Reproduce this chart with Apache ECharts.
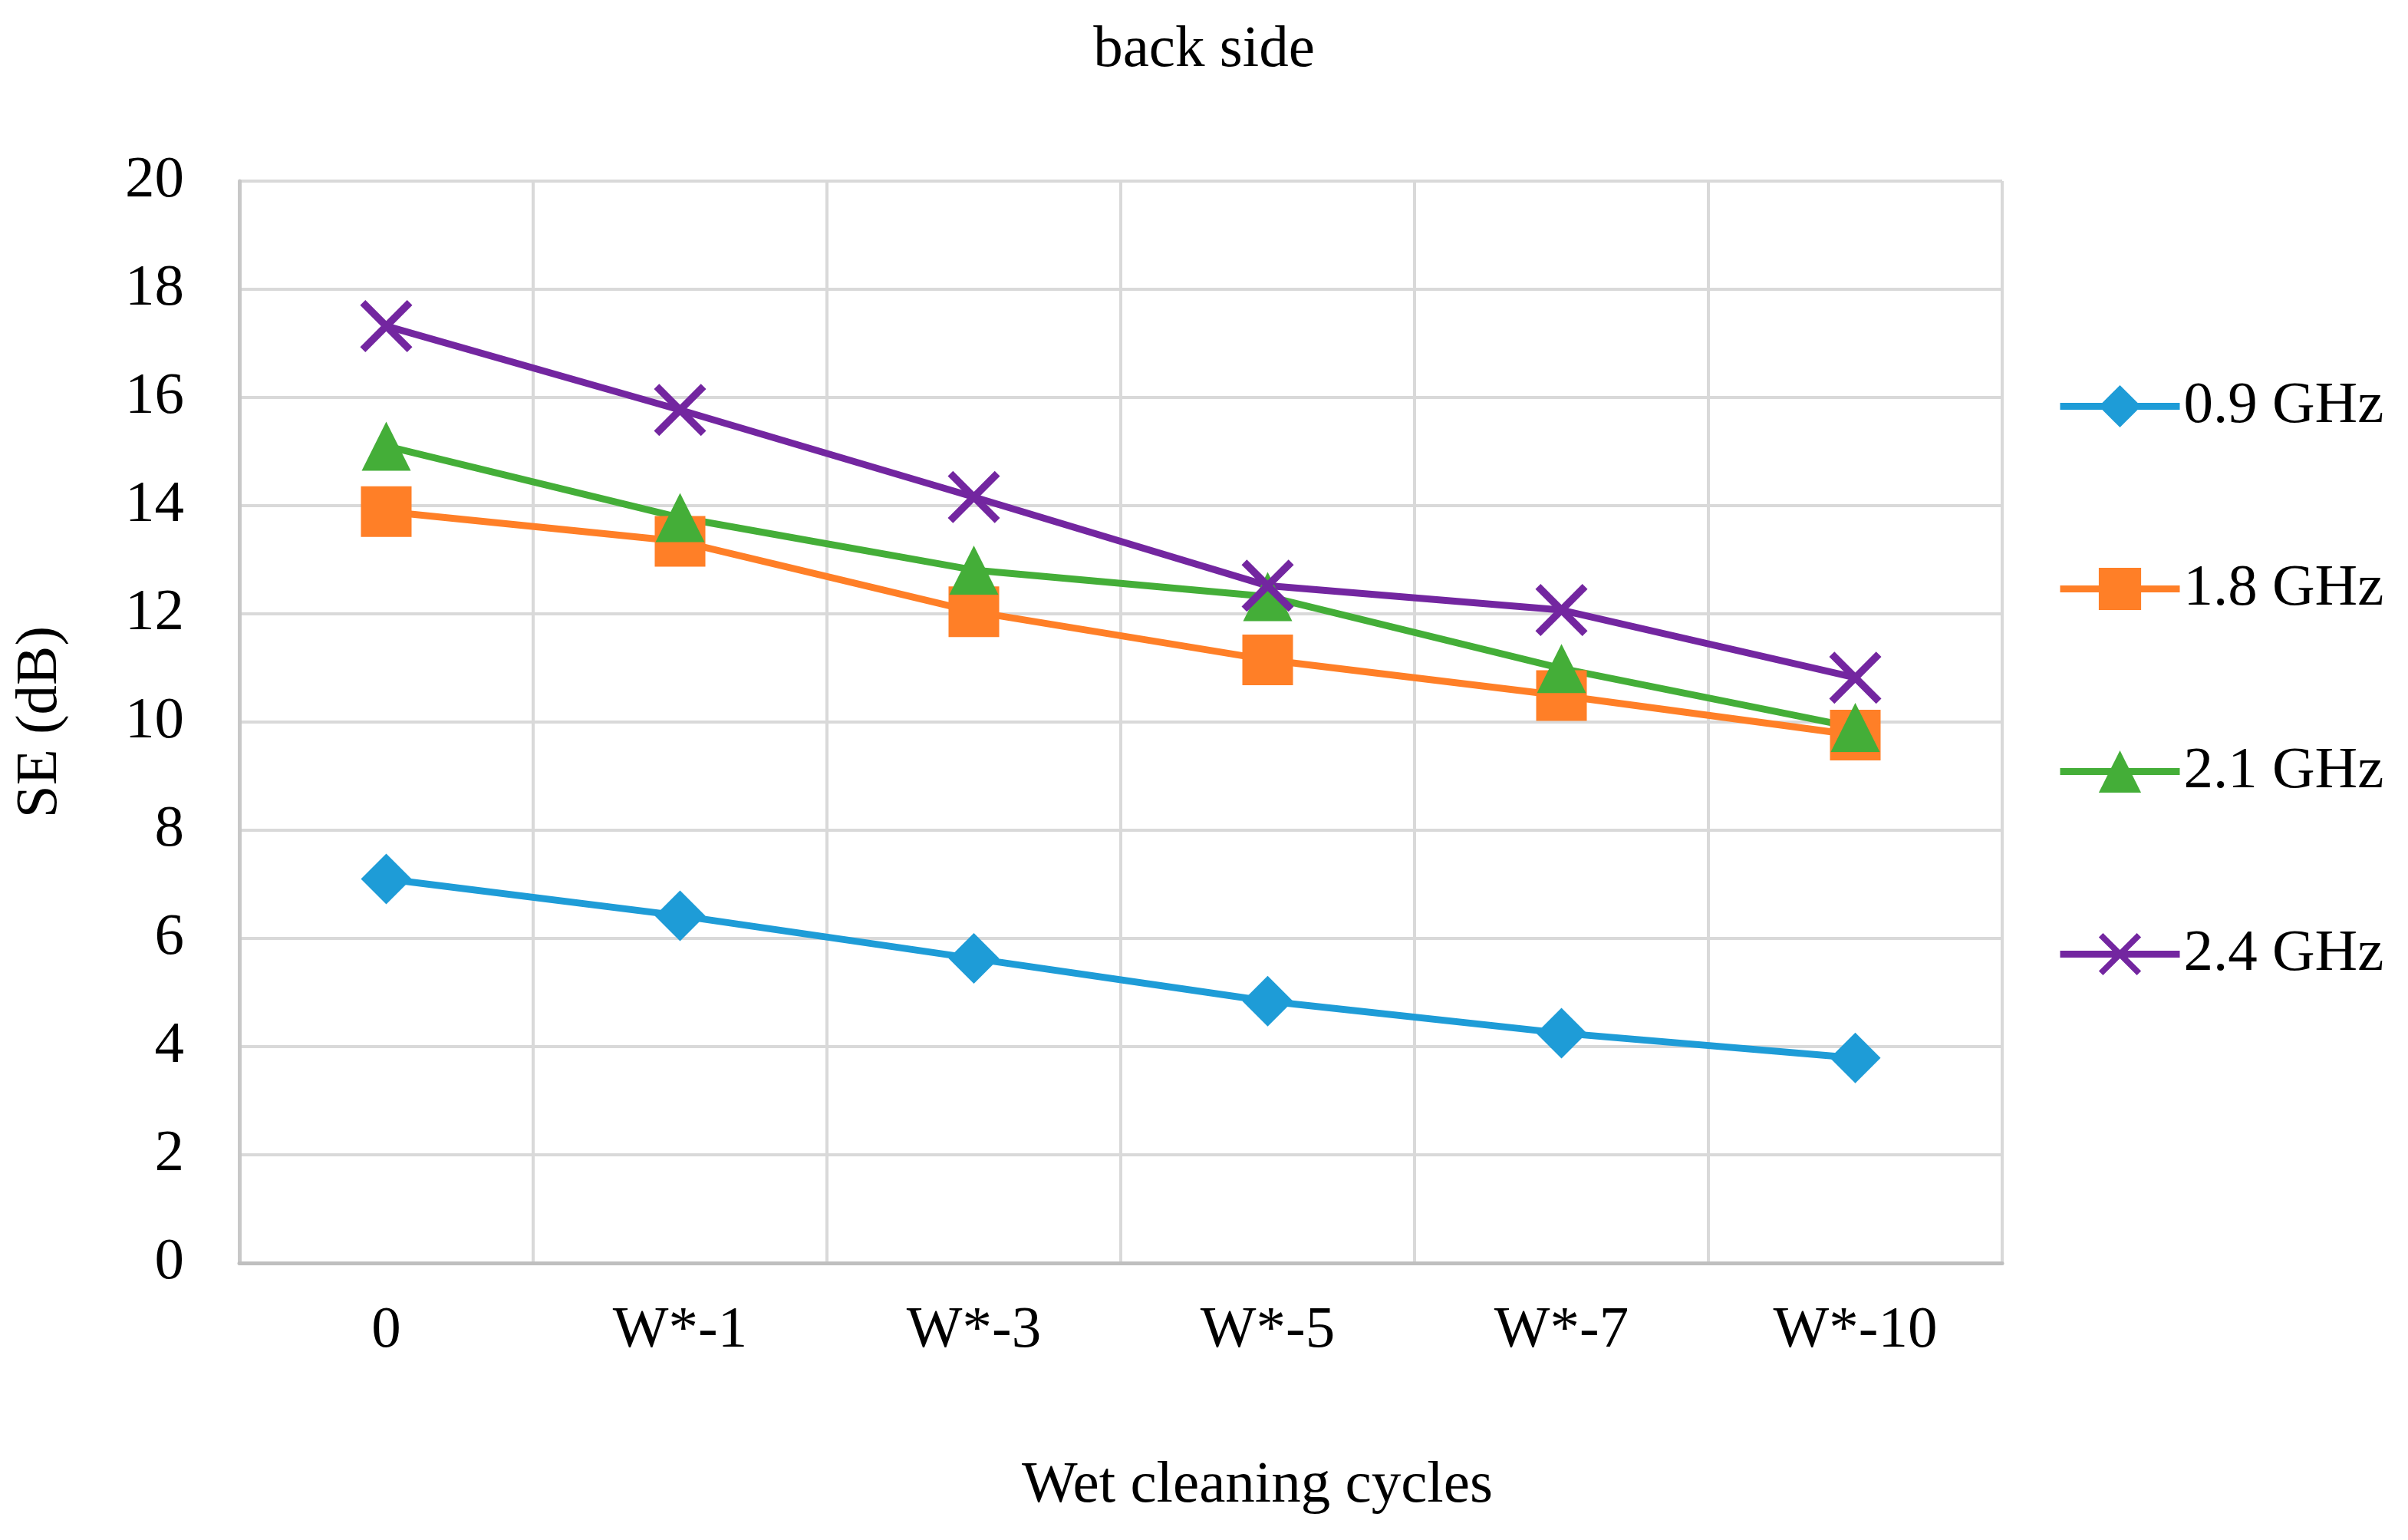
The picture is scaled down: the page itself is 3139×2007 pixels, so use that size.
<!DOCTYPE html>
<html>
<head>
<meta charset="utf-8">
<script src="https://cdn.jsdelivr.net/npm/echarts@6/dist/echarts.min.js"></script>
<style>
html,body{margin:0;padding:0;background:#fff;}
#chart{width:3139px;height:2007px;}
</style>
</head>
<body>
<div id="chart"></div>
<script>
const categories = ['0', 'W*-1', 'W*-3', 'W*-5', 'W*-7', 'W*-10'];
const seriesNames = ['0.9 GHz', '1.8 GHz', '2.1 GHz', '2.4 GHz'];
const se09 = [7.1, 6.42, 5.63, 4.84, 4.25, 3.79];
const se18 = [13.89, 13.34, 12.04, 11.15, 10.49, 9.76];
const se21 = [15.1, 13.78, 12.81, 12.32, 10.99, 9.9];
const se24 = [17.32, 15.77, 14.16, 12.52, 12.07, 10.82];
const yTicks = { min: 0, max: 20, interval: 2 };

const FONT = '"Liberation Serif", "DejaVu Serif", serif';
const FS = 77;
const xPath = 'path://M0,10 L10,0 L50,40 L90,0 L100,10 L60,50 L100,90 L90,100 L50,60 L10,100 L0,90 L40,50 Z';

const colors = ['#1E9CD7', '#FF7F27', '#44AE38', '#7326A0'];
const symbols = ['diamond', 'rect', 'triangle', xPath];
const sizes = [66, 66, 64, 68];
const values = [se09, se18, se21, se24];

const chart = echarts.init(document.getElementById('chart'), null, { renderer: 'canvas' });

const series = seriesNames.map((name, i) => ({
  name: name,
  type: 'line',
  data: values[i],
  symbol: symbols[i],
  symbolSize: sizes[i],
  showAllSymbol: true,
  lineStyle: { color: colors[i], width: 9 },
  itemStyle: { color: colors[i], borderWidth: 0 },
  emphasis: { disabled: true },
  animation: false
}));

chart.setOption({
  animation: false,
  backgroundColor: '#ffffff',
  title: {
    text: 'back side',
    left: 'center',
    top: 22,
    textStyle: { fontFamily: FONT, fontSize: FS, fontWeight: 'normal', color: '#000' }
  },
  legend: {
    orient: 'vertical',
    left: 2676,
    top: 486,
    itemWidth: 156,
    itemHeight: 69,
    itemGap: 161,
    data: seriesNames,
    lineStyle: { width: 9 },
    textStyle: { fontFamily: FONT, fontSize: FS, color: '#000' }
  },
  grid: { left: 312, right: 529, top: 236, bottom: 361, containLabel: false },
  xAxis: {
    type: 'category',
    data: categories,
    boundaryGap: true,
    name: 'Wet cleaning cycles',
    nameLocation: 'middle',
    nameGap: 252,
    nameTextStyle: { fontFamily: FONT, fontSize: FS, color: '#000', padding: [0, 0, 0, 356] },
    axisLine: { show: true, lineStyle: { color: '#BFBFBF', width: 5 } },
    axisTick: { show: false },
    axisLabel: { fontFamily: FONT, fontSize: FS, color: '#000', margin: 50 },
    splitLine: { show: true, lineStyle: { color: '#D9D9D9', width: 4 } }
  },
  yAxis: {
    type: 'value',
    min: yTicks.min,
    max: yTicks.max,
    interval: yTicks.interval,
    name: 'SE (dB)',
    nameLocation: 'middle',
    nameGap: 221,
    nameTextStyle: { fontFamily: FONT, fontSize: FS, color: '#000' },
    axisLine: { show: true, lineStyle: { color: '#C8C8C8', width: 5 } },
    axisTick: { show: false },
    axisLabel: { fontFamily: FONT, fontSize: FS, color: '#000', margin: 72 },
    splitLine: { show: true, lineStyle: { color: '#D9D9D9', width: 4 } }
  },
  series: series
});
</script>
</body>
</html>
